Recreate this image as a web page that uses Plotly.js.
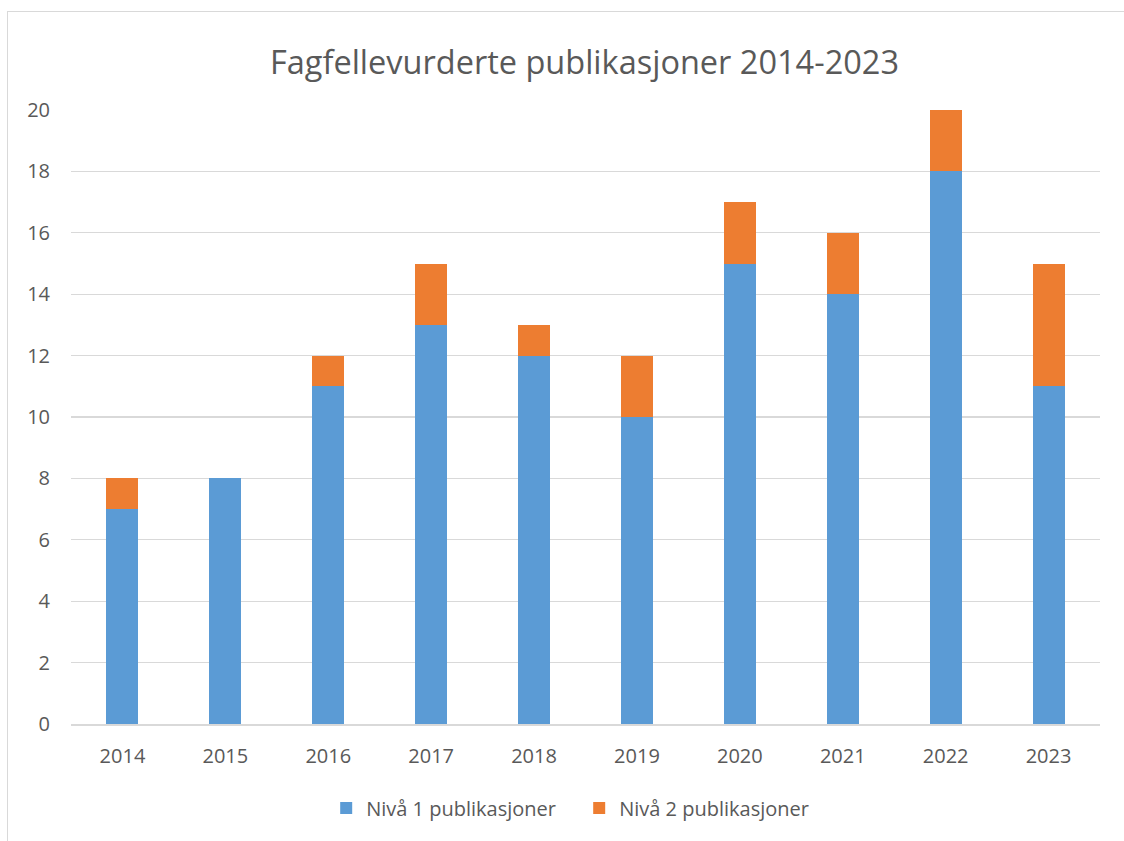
<!DOCTYPE html>
<html>
<head>
<meta charset="utf-8">
<script src="https://cdn.plot.ly/plotly-3.0.1.min.js"></script>
<style>
html,body{margin:0;padding:0;background:#fff;overflow:hidden;}
#frame{position:absolute;left:7px;top:11px;width:1200px;height:900px;border:1px solid #d9d9d9;}
#chart{position:absolute;left:0;top:0;width:1124px;height:841px;}
</style>
</head>
<body>
<div id="frame"></div>
<div id="chart"></div>
<script>
const years = ['2014','2015','2016','2017','2018','2019','2020','2021','2022','2023'];
const niva1 = [7, 8, 11, 13, 12, 10, 15, 14, 18, 11];
const niva2 = [1, 0, 1, 2, 1, 2, 2, 2, 2, 4];
const seriesNames = ['Nivå 1 publikasjoner', 'Nivå 2 publikasjoner'];
const yTicks = [0, 2, 4, 6, 8, 10, 12, 14, 16, 18, 20];

const font = 'Open Sans, sans-serif';
const data = [
  {type:'bar', x: years, y: niva1, name: seriesNames[0], marker:{color:'#5B9BD5'}, hoverinfo:'y'},
  {type:'bar', x: years, y: niva2, name: seriesNames[1], marker:{color:'#ED7D31'}, hoverinfo:'y'}
];
const layout = {
  width:1124, height:841,
  paper_bgcolor:'rgba(0,0,0,0)', plot_bgcolor:'rgba(0,0,0,0)',
  barmode:'stack', bargap:0.689,
  margin:{l:71, r:24, t:110, b:117},
  font:{family:font, color:'#595959', size:20},
  title:{text:'Fagfellevurderte publikasjoner 2014-2023', font:{family:font, size:32.5, color:'#595959'}, x:0.52, xanchor:'center', y:0.926, yanchor:'middle'},
  xaxis:{type:'category', showgrid:false, showline:true, linecolor:'#d9d9d9', linewidth:1.5, ticks:'', tickfont:{size:20, color:'#595959'}, ticklabelstandoff:13},
  yaxis:{range:[0,20], tickvals:yTicks, showgrid:true, gridcolor:'#d9d9d9', gridwidth:1.3, zeroline:false, showline:false, ticks:'', tickfont:{size:20, color:'#595959'}, ticklabelstandoff:20},
  legend:{orientation:'h', x:0.248, xref:'paper', xanchor:'left', y:-0.137, yanchor:'middle', font:{size:20, color:'#595959'}, traceorder:'normal', itemwidth:30, entrywidth:208},
  showlegend:true
};
Plotly.newPlot('chart', data, layout, {displayModeBar:false, staticPlot:true});
</script>
</body>
</html>
